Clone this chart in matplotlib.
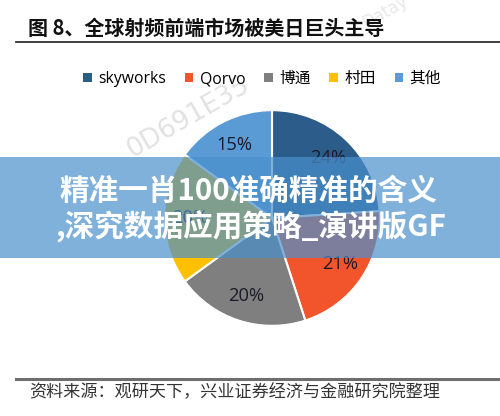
import matplotlib
matplotlib.use("Agg")
import matplotlib.pyplot as plt
from matplotlib.patches import Patch, Rectangle
from matplotlib.lines import Line2D

categories = ["skyworks", "Qorvo", "博通", "村田", "其他"]
values = [24, 21, 20, 20, 15]
colors = ["#2B5C8A", "#F2552C", "#7F7F7F", "#FFC000", "#5B9BD5"]
title = "图 8、全球射频前端市场被美日巨头主导"
source = "资料来源：观研天下，兴业证券经济与金融研究院整理"
banner = ["精准一肖100准确精准的含义", ",深究数据应用策略_演讲版GF"]

CJK = ["Noto Sans CJK SC", "DejaVu Sans"]
W, H = 500, 416
fig = plt.figure(figsize=(W / 100, H / 100), dpi=100)
fig.patch.set_facecolor("white")

def fx(px):
    return px / W

def fy(py):
    return 1 - py / H

# Title and rule
fig.text(fx(28), fy(28), title, family=CJK, fontsize=14.4, fontweight="bold",
         color="#111111", ha="left", va="center", zorder=6)
fig.add_artist(Line2D([fx(16), fx(500)], [fy(42), fy(42)], color="#333333", lw=1.3))

# Pie
cx, cy, r = 272, 218, 110
ax = fig.add_axes([fx(cx - r), fy(cy + r), (2 * r) / W, (2 * r) / H])
ax.set_aspect("equal")
wedges, texts, autotexts = ax.pie(
    values, colors=colors, startangle=90, counterclock=False, radius=1,
    autopct=lambda p: f"{p:.0f}%", pctdistance=0.76,
    wedgeprops=dict(edgecolor="white", linewidth=1.5),
    textprops=dict(family=["Open Sans", "DejaVu Sans"], fontsize=13.2, color="#1A1A2A"))
ax.set_xlim(-1.02, 1.02)
ax.set_ylim(-1.02, 1.02)
ax.axis("off")

# Legend
handles = [Patch(facecolor=c, edgecolor="none") for c in colors]
fig.legend(handles, categories, loc="center", bbox_to_anchor=(fx(262), fy(79)),
           ncol=5, frameon=False, handlelength=0.55, handleheight=0.55,
           handletextpad=0.4, columnspacing=1.2,
           prop=dict(family=["Open Sans", "Noto Sans CJK SC"], size=11.3))

# Watermarks
fig.text(fx(188), fy(118), "0D691E35", fontsize=19, color="#E2E2E2", rotation=30,
         ha="center", va="center", family="DejaVu Sans", zorder=5)
fig.text(fx(385), fy(12), "Datay", fontsize=12, color="#E8E8E8", rotation=30,
         ha="center", va="center", family="DejaVu Sans", zorder=5)

# Footer
fig.add_artist(Line2D([fx(16), fx(500)], [fy(379), fy(379)], color="#6E6E6E", lw=2.2))
fig.text(fx(29), fy(392), source, family=CJK, fontsize=12.3, color="#333333",
         ha="left", va="center")

# Banner overlay
fig.add_artist(Rectangle((0, fy(258)), 1, fy(157) - fy(258), transform=fig.transFigure,
                         facecolor="#4A90CC", alpha=0.7, edgecolor="none", zorder=10))
fig.text(fx(248), fy(191), banner[0], family=CJK, fontsize=21.3, fontweight="bold",
         color="white", ha="center", va="center", zorder=11)
fig.text(fx(251), fy(227), banner[1], family=CJK, fontsize=21.3, fontweight="bold",
         color="white", ha="center", va="center", zorder=11)

fig.savefig("out.png", dpi=100)
